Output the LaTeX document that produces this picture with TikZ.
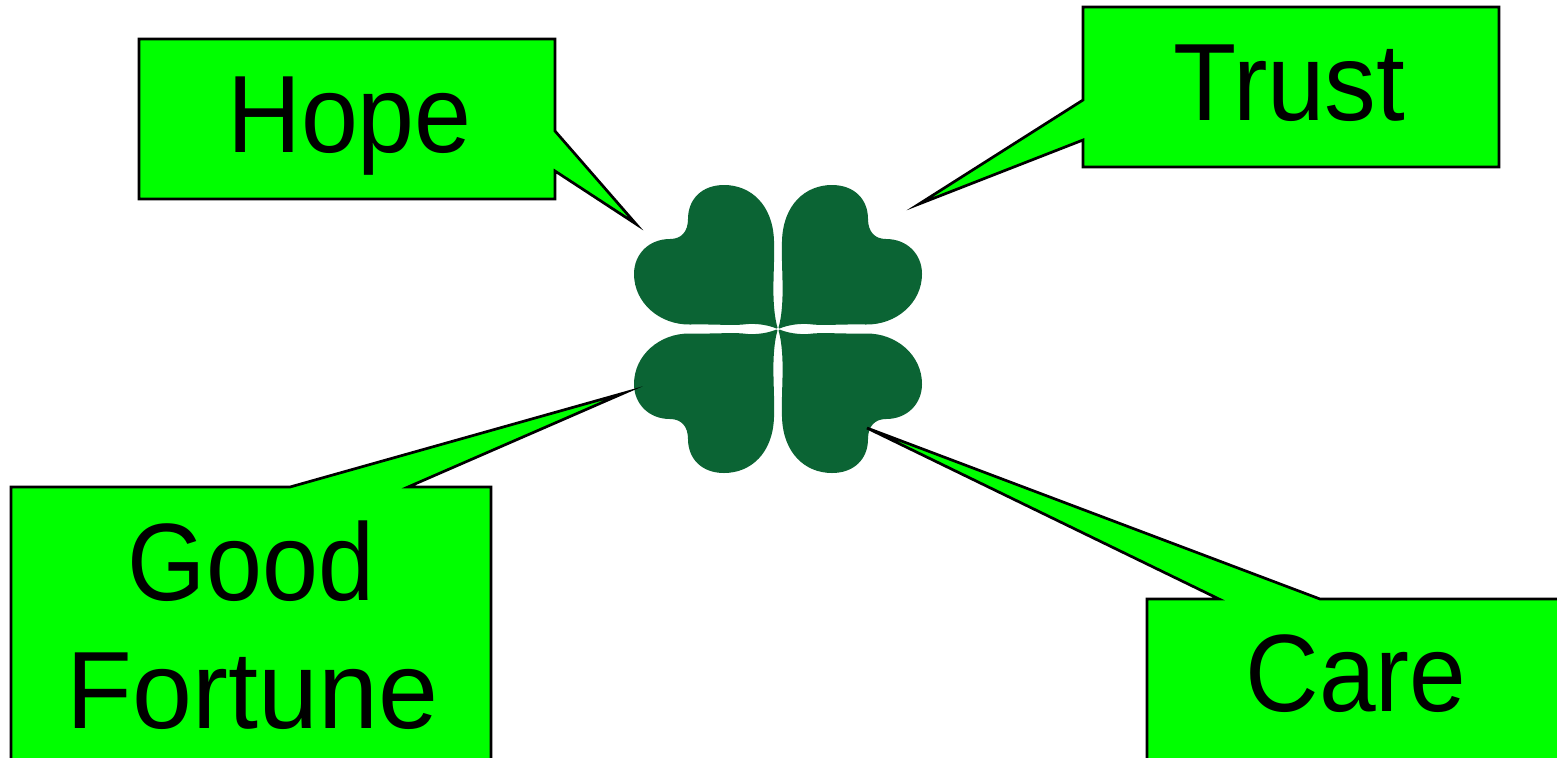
\documentclass[tikz,border=0pt]{standalone}
\usepackage{graphicx}
\usepackage{fontspec}
\setmainfont{Liberation Sans}
\definecolor{callgreen}{HTML}{00FF00}
\definecolor{leafgreen}{HTML}{0B6434}
\tikzset{
  callout/.style={draw=black,fill=callgreen,line width=1.35pt,line join=miter,miter limit=20},
  leaf/.style={fill=leafgreen,draw=none},
  calltext/.style={font=\fontsize{55}{64}\selectfont,text=black,inner sep=0pt,anchor=base}
}
\newcommand{\narrowtext}[2]{\scalebox{#1}[1]{#2}}
\newcommand{\leafpath}{(0.5,1.5) .. controls (2.5,8) and (4.6,20) .. (4.6,40) .. controls (4.6,55) and (3.5,70) .. (4,88)
  .. controls (5,124) and (27,144) .. (54,144) .. controls (76,144) and (90,130) .. (90,110)
  .. controls (90,97) and (97,90) .. (108,90) .. controls (129,90) and (144,75) .. (144,55)
  .. controls (144,26) and (118,4) .. (88,4.5) .. controls (60,5) and (45,3) .. (30,5) .. controls (20,5.5) and (10,4) .. (1.5,0.5) -- cycle}
\begin{document}
\begin{tikzpicture}[x=0.5pt,y=-0.5pt]
\useasboundingbox (0,0) rectangle (1557,757);
\clip (0,0) rectangle (1557,757);
\fill[white] (0,0) rectangle (1557,757);
\foreach \sx/\sy in {1/-1,-1/-1,1/1,-1/1}{
  \fill[leaf,shift={(778,329)},xscale=\sx,yscale=\sy] \leafpath;
}
\draw[callout] (139,39) -- (555,39) -- (555,131) -- (636,224) -- (555,171) -- (555,199) -- (139,199) -- cycle;
\draw[callout] (1083,7) -- (1499,7) -- (1499,167) -- (1083,167) -- (1083,140) -- (919,204) -- (1083,100) -- cycle;
\draw[callout] (11,487) -- (290,487) -- (624,393) -- (408,487) -- (491,487) -- (491,770) -- (11,770) -- cycle;
\draw[callout] (1147,599) -- (1219,599) -- (867,428) -- (1320,599) -- (1570,599) -- (1570,770) -- (1147,770) -- cycle;
\node[calltext] (hope) at (349.5,152) {\narrowtext{0.93}{Hope}};
\node[calltext] (trust) at (1289.5,120) {\narrowtext{0.94}{Trust}};
\node[calltext] (good) at (251,600) {\narrowtext{0.915}{Good}};
\node[calltext] (fortune) at (252.5,728) {\narrowtext{0.98}{Fortune}};
\node[calltext] (care) at (1356,711) {\narrowtext{0.926}{Care}};
\end{tikzpicture}
\end{document}
